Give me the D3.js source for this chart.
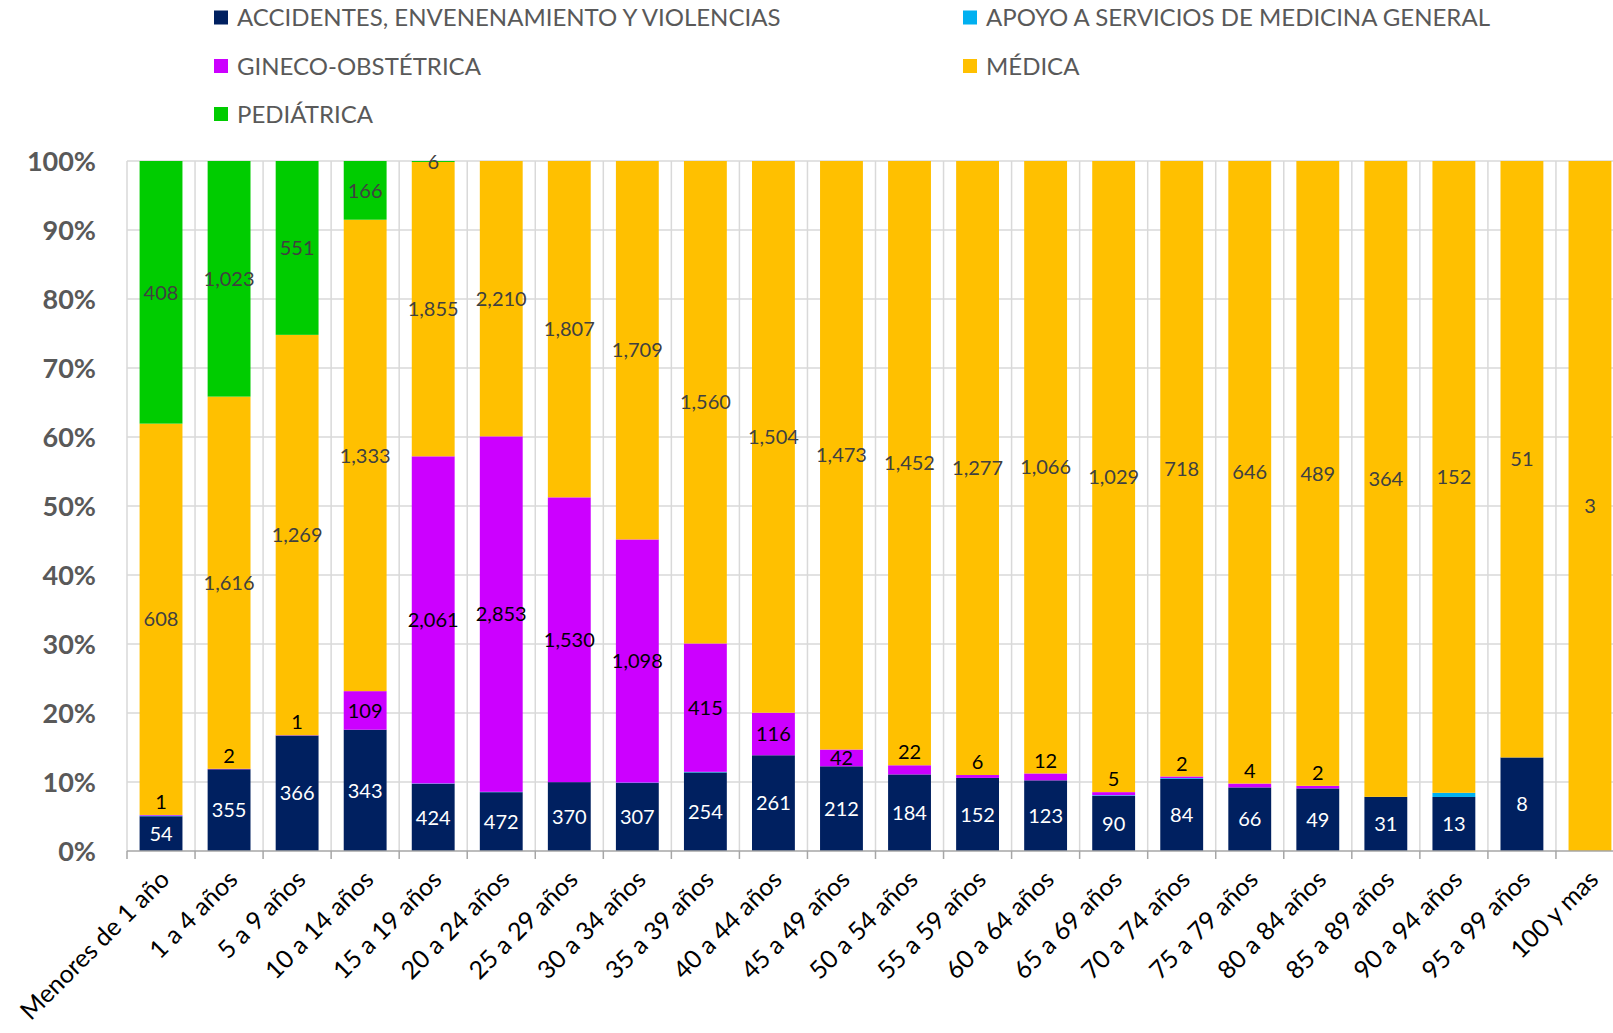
<!DOCTYPE html>
<html>
<head>
<meta charset="utf-8">
<script src="https://cdn.jsdelivr.net/npm/d3@7"></script>
<style>
  html, body { margin: 0; padding: 0; background: #fff; }
  svg { display: block; font-family: Lato, "Open Sans", sans-serif; }
</style>
</head>
<body>
<div id="chart_container"></div>
<script>
// categories (age groups)
const categories = ["Menores de 1 año", "1 a 4 años", "5 a 9 años", "10 a 14 años", "15 a 19 años",
  "20 a 24 años", "25 a 29 años", "30 a 34 años", "35 a 39 años", "40 a 44 años", "45 a 49 años",
  "50 a 54 años", "55 a 59 años", "60 a 64 años", "65 a 69 años", "70 a 74 años", "75 a 79 años",
  "80 a 84 años", "85 a 89 años", "90 a 94 años", "95 a 99 años", "100 y mas"];

// series values
const accidentes = [54, 355, 366, 343, 424, 472, 370, 307, 254, 261, 212, 184, 152, 123, 90, 84, 66, 49, 31, 13, 8, 0];
const apoyo      = [1, 0, 0, 0, 2, 3, 0, 2, 2, 0, 0, 0, 0, 0, 1, 1, 0, 0, 0, 1, 0, 0];
const gineco     = [1, 2, 1, 109, 2061, 2853, 1530, 1098, 415, 116, 42, 22, 6, 12, 5, 2, 4, 2, 0, 0, 0, 0];
const medica     = [608, 1616, 1269, 1333, 1855, 2210, 1807, 1709, 1560, 1504, 1473, 1452, 1277, 1066, 1029, 718, 646, 489, 364, 152, 51, 3];
const pediatrica = [408, 1023, 551, 166, 6, 0, 0, 0, 0, 0, 0, 0, 0, 0, 0, 0, 0, 0, 0, 0, 0, 0];

const seriesNames = ["ACCIDENTES, ENVENENAMIENTO Y VIOLENCIAS", "APOYO A SERVICIOS DE MEDICINA GENERAL",
  "GINECO-OBSTÉTRICA", "MÉDICA", "PEDIÁTRICA"];
const yTicks = [0, 0.1, 0.2, 0.3, 0.4, 0.5, 0.6, 0.7, 0.8, 0.9, 1];

const colors = ["#002060", "#00B0F0", "#CC00FF", "#FFC000", "#00CC00"];
const labelColors = ["#ffffff", null, "#000000", "#404040", "#404040"];

const width = 1613, height = 1033;
const margin = {top: 161, right: -11, bottom: 182, left: 127};

const table = categories.map((c, i) => ({
  cat: c,
  s0: accidentes[i], s1: apoyo[i], s2: gineco[i], s3: medica[i], s4: pediatrica[i]
}));
const keys = ["s0", "s1", "s2", "s3", "s4"];

const stacked = d3.stack().keys(keys).offset(d3.stackOffsetExpand)(table);

const x = d3.scaleBand()
  .domain(categories)
  .range([margin.left, width - margin.right])
  .paddingInner(0.37)
  .paddingOuter(0.185);

const y = d3.scaleLinear()
  .domain([0, 1])
  .range([height - margin.bottom, margin.top]);

const svg = d3.select("#chart_container").append("svg")
  .attr("width", width)
  .attr("height", height)
  .attr("viewBox", [0, 0, width, height]);

svg.append("rect").attr("width", width).attr("height", height).attr("fill", "#fff");

const step = x.step();
const bounds = d3.range(categories.length + 1).map(i => margin.left + i * step);

// gridlines
const grid = svg.append("g").attr("stroke", "#D9D9D9").attr("stroke-width", 1.5);
grid.selectAll(".hg")
  .data(yTicks.filter(t => t > 0))
  .join("line")
    .attr("x1", margin.left).attr("x2", width - margin.right)
    .attr("y1", d => y(d)).attr("y2", d => y(d));
grid.selectAll(".vg")
  .data(bounds)
  .join("line")
    .attr("x1", d => d).attr("x2", d => d)
    .attr("y1", y(1)).attr("y2", y(0));

// bars
const layer = svg.append("g")
  .selectAll("g")
  .data(stacked)
  .join("g")
    .attr("fill", (d, i) => colors[i]);

layer.selectAll("rect")
  .data(d => d)
  .join("rect")
    .attr("x", d => x(d.data.cat))
    .attr("width", x.bandwidth())
    .attr("y", d => y(d[1]))
    .attr("height", d => Math.max(0, y(d[0]) - y(d[1])));

// x axis
const xAxis = svg.append("g")
  .attr("transform", `translate(0,${y(0)})`);
xAxis.append("line")
  .attr("x1", margin.left).attr("x2", width - margin.right)
  .attr("stroke", "#A6A6A6").attr("stroke-width", 1.5);
xAxis.selectAll(".tk")
  .data(bounds)
  .join("line")
    .attr("x1", d => d).attr("x2", d => d)
    .attr("y1", 0).attr("y2", 8)
    .attr("stroke", "#A6A6A6").attr("stroke-width", 1.5);
xAxis.selectAll("text")
  .data(categories)
  .join("text")
    .attr("text-anchor", "end")
    .attr("font-size", 25)
    .attr("fill", "#000")
    .attr("transform", d => `translate(${x(d) + x.bandwidth() / 2 + 10},${30}) rotate(-45)`)
    .text(d => d);

// y axis labels
svg.append("g")
  .selectAll("text")
  .data(yTicks)
  .join("text")
    .attr("x", 96)
    .attr("y", d => y(d))
    .attr("dy", "0.36em")
    .attr("text-anchor", "end")
    .attr("font-size", 27)
    .attr("font-weight", "bold")
    .attr("fill", "#595959")
    .text(d3.format(".0%"));

// data labels
const fmt = d3.format(",");
stacked.forEach((s, si) => {
  if (!labelColors[si]) return;
  svg.append("g")
    .selectAll("text")
    .data(s.filter(d => d.data[s.key] > 0))
    .join("text")
      .attr("x", d => x(d.data.cat) + x.bandwidth() / 2)
      .attr("y", d => {
        const top = y(d[1]), bot = y(d[0]);
        if (si === 2 && bot - top < 14) return top - 13;
        return (top + bot) / 2;
      })
      .attr("dy", "0.36em")
      .attr("text-anchor", "middle")
      .attr("font-size", 20)
      .attr("fill", labelColors[si])
      .text(d => fmt(d.data[s.key]));
});

// legend
const legendPos = [[214, 17.5], [963, 17.5], [214, 66], [963, 66], [214, 114]];
const legend = svg.append("g")
  .selectAll("g")
  .data(seriesNames)
  .join("g")
    .attr("transform", (d, i) => `translate(${legendPos[i][0]},${legendPos[i][1]})`);
legend.append("rect")
  .attr("x", 0).attr("y", -7)
  .attr("width", 14).attr("height", 14)
  .attr("fill", (d, i) => colors[i]);
legend.append("text")
  .attr("x", 23)
  .attr("dy", "0.36em")
  .attr("font-size", 24)
  .attr("fill", "#595959")
  .text(d => d);
</script>
</body>
</html>
